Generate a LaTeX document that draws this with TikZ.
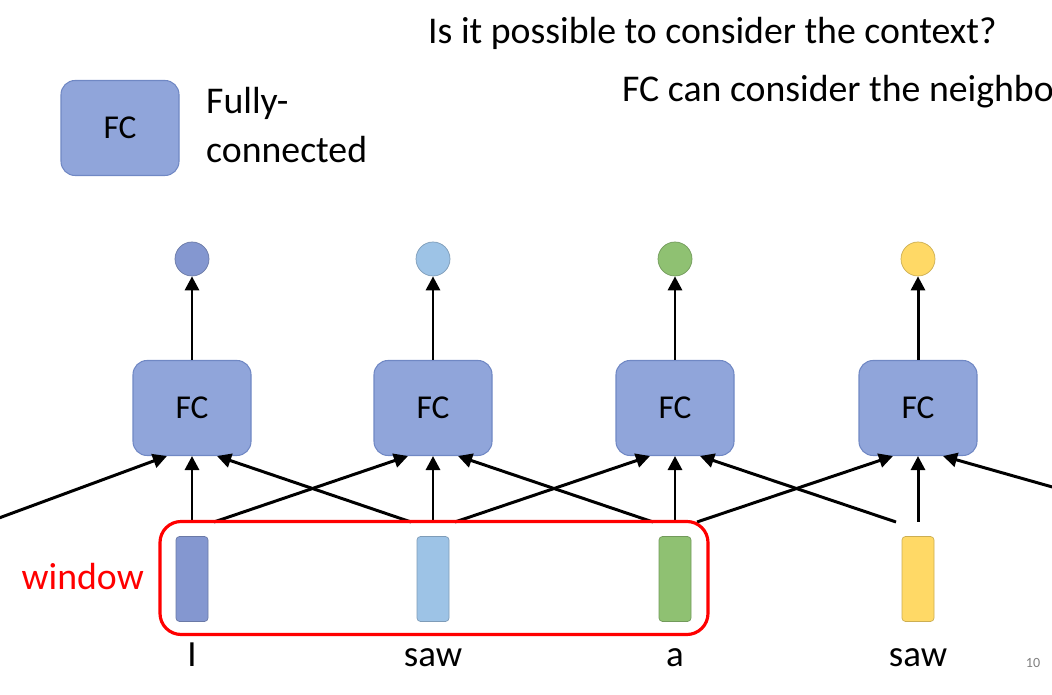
\documentclass[tikz,border=0pt]{standalone}
\usepackage{fontspec}
\setmainfont{Carlito}
\usetikzlibrary{arrows.meta}
\definecolor{cA}{HTML}{8497D0}
\definecolor{cB}{HTML}{9DC3E6}
\definecolor{cC}{HTML}{8FC172}
\definecolor{cD}{HTML}{FFD966}
\definecolor{fcfill}{HTML}{90A5DA}
\definecolor{fcdraw}{HTML}{7088C4}
\begin{document}
\begin{tikzpicture}[x=0.02cm,y=-0.02cm,
  fc/.style={draw=fcdraw,fill=fcfill,rounded corners=8pt,minimum width=118*0.02cm,minimum height=95*0.02cm,font=\fontsize{19}{22}\selectfont,line width=0.6pt},
  outc/.style={circle,minimum size=34*0.02cm,inner sep=0pt},
  vec/.style={rounded corners=2pt,minimum width=32*0.02cm,minimum height=85*0.02cm,inner sep=0pt},
  word/.style={font=\fontsize{21}{24}\selectfont},
  arr/.style={-{Triangle[length=8pt,width=8pt]},line width=1.7pt},
  txt/.style={font=\fontsize{21.5}{25}\selectfont}]
\useasboundingbox (0,0) rectangle (1052,695);
\begin{scope}
\clip (0,0) rectangle (1052,695);
\node[txt,anchor=west] (t1) at (422,33) {Is it possible to consider the context?};
\node[txt,anchor=west] (t2) at (616,92) {FC can consider the neighbor};
\node[fc] (leg) at (120,128) {FC};
\node[txt,anchor=west] (l1) at (200,103) {Fully-};
\node[txt,anchor=west] (l2) at (200,150) {connected};
\foreach \i/\x/\c/\w in {1/192/cA/I,2/433/cB/saw,3/675/cC/a,4/918/cD/saw}{
  \node[outc,fill=\c,draw=\c!80!black] (o\i) at (\x,259) {};
  \node[fc] (f\i) at (\x,408) {FC};
  \node[vec,fill=\c,draw=\c!80!black] (v\i) at (\x,579) {};
  \node[word,anchor=base] (w\i) at (\x,667) {\w};
  \coordinate (s\i) at (\x,522);
  \coordinate (sl\i) at (\x-22,522);
  \coordinate (sr\i) at (\x+22,522);
  \draw[arr] (f\i.north) -- (o\i.south);
  \draw[arr] (s\i) -- (f\i.south);
}
\coordinate (e0) at (-20,525);
\coordinate (e5) at (1070,492);
\draw[arr] (e0) -- ([xshift=-25*0.02cm]f1.south);
\draw[arr] (sl2) -- ([xshift=25*0.02cm]f1.south);
\draw[arr] (sr1) -- ([xshift=-25*0.02cm]f2.south);
\draw[arr] (sl3) -- ([xshift=25*0.02cm]f2.south);
\draw[arr] (sr2) -- ([xshift=-25*0.02cm]f3.south);
\draw[arr] (sl4) -- ([xshift=25*0.02cm]f3.south);
\draw[arr] (sr3) -- ([xshift=-25*0.02cm]f4.south);
\draw[arr] (e5) -- ([xshift=25*0.02cm]f4.south);
\node[draw=red,line width=1.8pt,rounded corners=12pt,minimum width=548*0.02cm,minimum height=113*0.02cm] (win) at (434,578) {};
\node[txt,text=red,anchor=east] (wl) at (150,577) {window};
\node[font=\fontsize{8}{10}\selectfont,text=gray] (pg) at (1033,663) {10};
\end{scope}
\end{tikzpicture}
\end{document}
